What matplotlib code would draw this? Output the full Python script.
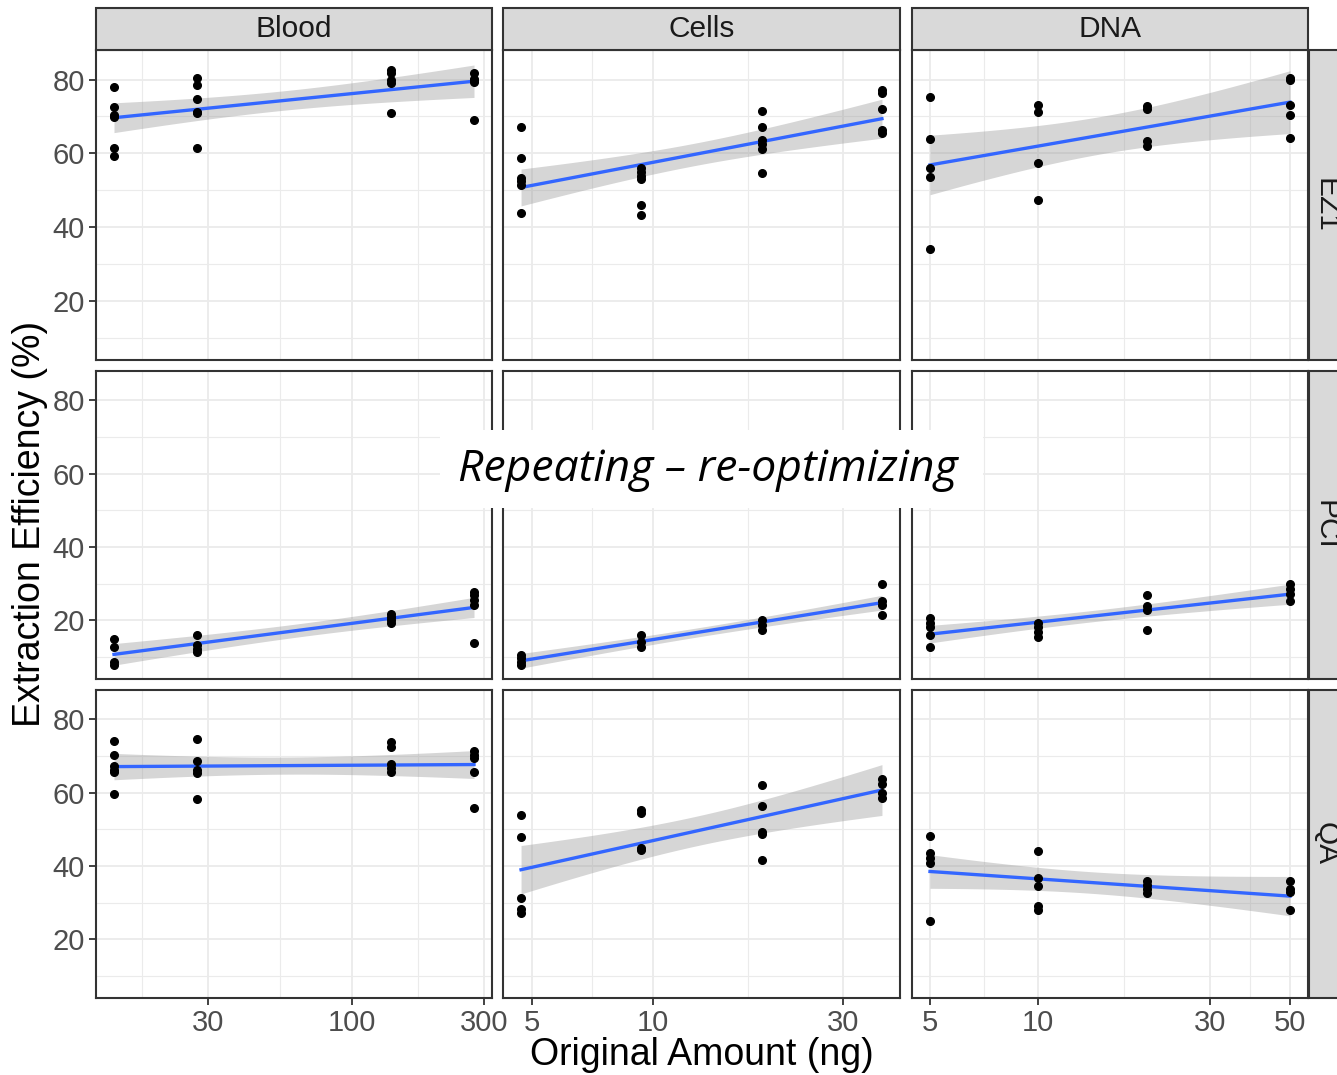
import matplotlib
matplotlib.use('Agg')
from matplotlib import pyplot as plt
from matplotlib.patches import Rectangle
from matplotlib.ticker import NullFormatter
import numpy as np

plt.rcParams['font.family'] = ['Liberation Sans', 'DejaVu Sans']

# amounts (ng) per sample type
blood_ng = [13.75, 27.5, 137.5, 275]
cells_ng = [4.6875, 9.375, 18.75, 37.5]
dna_ng = [5, 10, 20, 50]

# extraction efficiency (%) per amount, per method x sample type
ez1_blood = [[78, 72.5, 70.5, 69.8, 61.5, 59.4], [80.3, 78.5, 74.8, 71.2, 70.9, 61.5],
             [82.7, 81.8, 80, 79.1, 71.0], [81.8, 80.2, 79.8, 79.3, 68.9]]
ez1_cells = [[67.2, 58.8, 53.3, 52.4, 51.5, 43.8], [56.0, 54.9, 53.9, 53.0, 46.1, 43.3],
             [71.4, 67.1, 63.7, 62.5, 61.3, 54.6], [77.1, 76.4, 72.0, 66.4, 65.5]]
ez1_dna = [[75.3, 63.9, 56.0, 53.5, 34.1], [73.2, 71.1, 57.4, 47.3],
           [72.9, 72.0, 63.3, 61.9], [80.5, 79.8, 73.0, 70.5, 64.2]]
pci_blood = [[15.0, 12.7, 8.7, 7.8], [16.1, 13.2, 12.3, 11.4],
             [21.8, 20.9, 20.0, 19.4], [27.7, 26.8, 25.6, 24.3, 13.7]]
pci_cells = [[10.5, 9.6, 8.7, 7.8], [16.1, 14.1, 12.7],
             [20.0, 18.6, 17.3], [30.0, 25.4, 24.1, 21.5]]
pci_dna = [[20.6, 19.4, 18.2, 16.1, 12.7], [19.3, 18.2, 16.8, 15.5],
           [27.0, 23.9, 22.7, 17.3], [30.0, 28.6, 27.2, 25.4]]
qa_blood = [[74.0, 70.4, 67.2, 66.3, 65.7, 59.6], [74.6, 68.6, 66.2, 65.3, 58.2],
            [73.8, 72.5, 67.7, 66.6, 65.7], [71.3, 70.2, 69.5, 65.7, 55.8]]
qa_cells = [[53.9, 47.9, 31.3, 28.3, 27.2], [55.3, 54.4, 44.9, 44.4],
            [62.1, 56.4, 49.2, 48.8, 41.7], [63.6, 62.4, 59.8, 58.5]]
qa_dna = [[48.2, 43.5, 42.2, 40.8, 25.0], [44.2, 36.7, 34.5, 29.0, 28.1],
          [36.0, 34.9, 33.6, 32.7], [36.0, 33.8, 32.8, 27.9]]

col_names = ['Blood', 'Cells', 'DNA']
row_names = ['EZ1', 'PCI', 'QA']
amounts = [blood_ng, cells_ng, dna_ng]
panels = [[ez1_blood, ez1_cells, ez1_dna],
          [pci_blood, pci_cells, pci_dna],
          [qa_blood, qa_cells, qa_dna]]
x_major = [[30, 100, 300], [5, 10, 30], [5, 10, 30, 50]]
x_minor = [[17.32, 54.77, 173.2], [7.07, 17.32], [7.07, 17.32, 38.73]]
y_major = [20, 40, 60, 80]
y_minor = [10, 30, 50, 70]

W, H = 1337, 1075
fig = plt.figure(figsize=(W / 100, H / 100), dpi=100)


def rect(x0, y0, x1, y1):
    return [x0 / W, 1 - y1 / H, (x1 - x0) / W, (y1 - y0) / H]


col_x = [(96, 492), (503, 900), (912, 1308)]
row_y = [(50, 360), (371, 679), (690, 998)]
dark = '#333333'


def t975(df):
    z = 1.959964
    return z + (z**3 + z) / (4 * df) + (5 * z**5 + 16 * z**3 + 3 * z) / (96 * df**2)


for r in range(3):
    for c in range(3):
        ax = fig.add_axes(rect(col_x[c][0], row_y[r][0], col_x[c][1], row_y[r][1]))
        xs, ys = [], []
        for amt, vals in zip(amounts[c], panels[r][c]):
            xs += [amt] * len(vals)
            ys += vals
        xs = np.array(xs, float)
        ys = np.array(ys, float)
        lx = np.log10(xs)
        # lm fit with 95% confidence band (on log10 scale)
        b1, b0 = np.polyfit(lx, ys, 1)
        n = len(lx)
        s = np.sqrt(np.sum((ys - (b0 + b1 * lx))**2) / (n - 2))
        g = np.linspace(lx.min(), lx.max(), 80)
        se = s * np.sqrt(1 / n + (g - lx.mean())**2 / np.sum((lx - lx.mean())**2))
        fit = b0 + b1 * g
        tq = t975(n - 2)
        ax.fill_between(10**g, fit - tq * se, fit + tq * se, color='#999999', alpha=0.4,
                        linewidth=0, zorder=3)
        ax.plot(10**g, fit, color='#3366FF', linewidth=2.4, zorder=4)
        ax.plot(xs, ys, 'o', color='black', markersize=5.5, zorder=5)

        ax.set_xscale('log')
        lo, hi = np.log10(min(amounts[c])), np.log10(max(amounts[c]))
        pad = 0.05 * (hi - lo)
        ax.set_xlim(10**(lo - pad), 10**(hi + pad))
        ax.set_ylim(4.0, 88.0)
        ax.set_xticks(x_major[c])
        ax.set_xticks(x_minor[c], minor=True)
        ax.xaxis.set_minor_formatter(NullFormatter())
        ax.set_yticks(y_major)
        ax.set_yticks(y_minor, minor=True)
        ax.grid(True, which='major', color='#EBEBEB', linewidth=1.3, zorder=0)
        ax.grid(True, which='minor', color='#EBEBEB', linewidth=0.8, zorder=0)
        ax.set_axisbelow(True)
        for sp in ax.spines.values():
            sp.set_color(dark)
            sp.set_linewidth(1.5)
        ax.tick_params(which='minor', length=0)
        ax.tick_params(which='major', length=5, width=1.3, color=dark,
                       labelsize=21, labelcolor='#4D4D4D', pad=3)
        if r == 2:
            ax.set_xticklabels([str(v) for v in x_major[c]])
        else:
            ax.tick_params(axis='x', which='major', length=0, labelbottom=False)
        if c == 0:
            ax.set_yticklabels([str(v) for v in y_major])
        else:
            ax.tick_params(axis='y', which='major', length=0, labelleft=False)

# top strips
for c in range(3):
    x0, x1 = col_x[c]
    fig.patches.append(Rectangle((x0 / W, 1 - 50 / H), (x1 - x0) / W, 42 / H,
                                 transform=fig.transFigure, facecolor='#D9D9D9',
                                 edgecolor=dark, linewidth=1.5))
    fig.text((x0 + x1) / 2 / W, 1 - 29 / H, col_names[c], ha='center', va='center',
             fontsize=21.5, color='#1A1A1A')

# right strips (cut off by the image edge)
for r in range(3):
    y0, y1 = row_y[r]
    fig.patches.append(Rectangle((1309 / W, 1 - y1 / H), 42 / W, (y1 - y0) / H,
                                 transform=fig.transFigure, facecolor='#D9D9D9',
                                 edgecolor=dark, linewidth=1.5))
    fig.text(1326 / W, 1 - (y0 + y1) / 2 / H, row_names[r], ha='center', va='center',
             rotation=-90, fontsize=21.5, color='#1A1A1A')

fig.text(702 / W, 1 - 1055 / H, 'Original Amount (ng)', ha='center', va='center',
         fontsize=27, color='black')
fig.text(30 / W, 1 - 524 / H, 'Extraction Efficiency (%)', ha='center', va='center',
         rotation=90, fontsize=27, color='black')

# overlay note
fig.patches.append(Rectangle((440 / W, 1 - 508 / H), 543 / W, 78 / H,
                             transform=fig.transFigure, facecolor='white',
                             edgecolor='none', zorder=10))
fig.text(708 / W, 1 - 470 / H, 'Repeating \u2013 re-optimizing', ha='center', va='center',
         fontsize=32, style='italic', family=['Open Sans', 'DejaVu Sans'],
         color='black', zorder=11)

fig.savefig('out.png', dpi=100)
